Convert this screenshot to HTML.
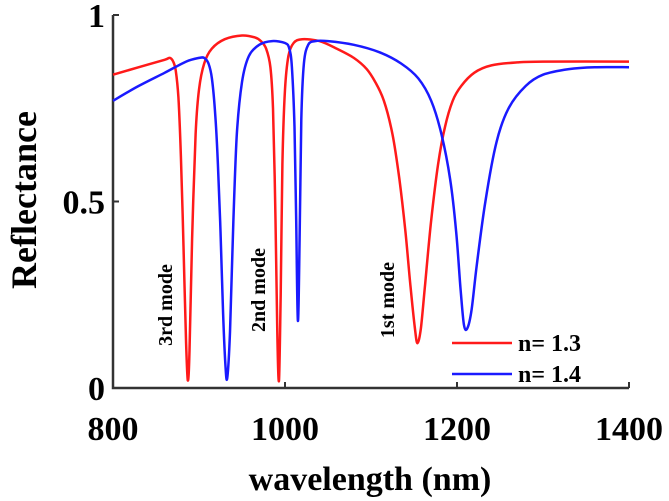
<!DOCTYPE html>
<html><head><meta charset="utf-8"><style>
html,body{margin:0;padding:0;background:#fff;}
svg{display:block;font-family:"Liberation Serif",serif;font-weight:bold;}
</style></head><body>
<svg id="chart" width="669" height="501" viewBox="0 0 669 501">
<g id="axes"></g>
<g id="series"></g>
<text x="172" y="305" font-size="20" text-anchor="middle" transform="rotate(-90 172 305)">3rd mode</text>
<text x="265" y="290" font-size="20" text-anchor="middle" transform="rotate(-90 265 290)">2nd mode</text>
<text x="394" y="300" font-size="20" text-anchor="middle" transform="rotate(-90 394 300)">1st mode</text>
<g>
<line x1="452" y1="343" x2="512" y2="343" stroke="#ff1a1a" stroke-width="2.5"/>
<text x="518" y="351" font-size="24">n= 1.3</text>
<line x1="452" y1="374" x2="512" y2="374" stroke="#1a1aff" stroke-width="2.5"/>
<text x="518" y="382" font-size="24">n= 1.4</text>
</g>
<text x="370" y="490" font-size="34" text-anchor="middle">wavelength (nm)</text>
<text x="36" y="200" font-size="36" text-anchor="middle" transform="rotate(-90 36 200)">Reflectance</text>
</svg>
<script>
const redX=[800,830,860,866,870,873,876,879,882,885,887,889,892,896,900,906,915,930,950,965,972,978,983,986,989,991,993,995,997,1000,1004,1010,1020,1040,1060,1080,1095,1105,1115,1125,1133,1140,1146,1151,1154,1158,1163,1170,1178,1186,1195,1205,1220,1240,1270,1300,1400];
const redY=[0.84,0.86,0.88,0.885,0.875,0.85,0.78,0.62,0.38,0.12,0.02,0.1,0.4,0.68,0.8,0.87,0.91,0.935,0.945,0.94,0.93,0.91,0.86,0.75,0.45,0.15,0.02,0.25,0.6,0.8,0.89,0.925,0.935,0.93,0.91,0.885,0.855,0.82,0.77,0.68,0.56,0.42,0.27,0.16,0.12,0.16,0.28,0.45,0.6,0.7,0.77,0.81,0.845,0.865,0.873,0.875,0.875];
const blueX=[800,830,860,885,900,906,911,915,919,922,925,928,931,933,936,940,944,950,958,970,985,1000,1005,1008,1011,1013,1015,1017,1019,1022,1027,1035,1050,1080,1110,1135,1155,1170,1182,1192,1199,1204,1208,1212,1217,1223,1233,1246,1260,1280,1300,1330,1360,1400];
const blueY=[0.77,0.81,0.845,0.875,0.885,0.885,0.87,0.83,0.73,0.6,0.42,0.2,0.05,0.03,0.15,0.45,0.68,0.82,0.89,0.92,0.93,0.925,0.91,0.86,0.7,0.45,0.18,0.4,0.72,0.87,0.92,0.93,0.93,0.92,0.9,0.87,0.83,0.77,0.68,0.56,0.42,0.27,0.17,0.16,0.21,0.33,0.5,0.66,0.75,0.81,0.84,0.855,0.86,0.86];
const xTicks=[800,1000,1200,1400];
const yTicks=[0,0.5,1];
const yTickLabels=["0","0.5","1"];
const X0=113,X1=629,Y0=388,Y1=15;
const sx=v=>X0+(v-800)/(1400-800)*(X1-X0);
const sy=v=>Y0-(v-0)/(1-0)*(Y0-Y1);
const NS="http://www.w3.org/2000/svg";
const axes=document.getElementById('axes'),series=document.getElementById('series');
function mk(t,a,p){const e=document.createElementNS(NS,t);for(const k in a)e.setAttribute(k,a[k]);p.appendChild(e);return e;}
const ax=mk('path',{d:`M${X0} ${Y1}V${Y0}H${X1}`,stroke:'#333',fill:'none','stroke-width':2.5},axes);


xTicks.forEach(v=>{
 const l=mk('line',{x1:sx(v),x2:sx(v),y1:Y0,y2:Y0-6,stroke:'#333','stroke-width':2},axes);
 
 
 const t=mk('text',{x:sx(v),y:Y0+52,'font-size':34,'text-anchor':'middle'},axes);
 t.textContent=v;
 
 
});
yTicks.forEach((v,i)=>{
 const l=mk('line',{x1:X0,x2:X0+6,y1:sy(v),y2:sy(v),stroke:'#333','stroke-width':2},axes);
 
 
 const t=mk('text',{x:X0-8,y:sy(v)+12,'font-size':34,'text-anchor':'end'},axes);
 t.textContent=yTickLabels[i];
 
 
});
function line(xs,ys,c,name){
 const P=xs.map((x,i)=>[sx(x),sy(ys[i])]);
 let d='M'+P[0][0].toFixed(1)+' '+P[0][1].toFixed(1);
 for(let i=0;i<P.length-1;i++){
  const p0=P[Math.max(0,i-1)],p1=P[i],p2=P[i+1],p3=P[Math.min(P.length-1,i+2)];
  const t=0.16;
  const c1=[p1[0]+(p2[0]-p0[0])*t,p1[1]+(p2[1]-p0[1])*t];
  const c2=[p2[0]-(p3[0]-p1[0])*t,p2[1]-(p3[1]-p1[1])*t];
  d+=`C${c1[0].toFixed(1)} ${c1[1].toFixed(1)} ${c2[0].toFixed(1)} ${c2[1].toFixed(1)} ${p2[0].toFixed(1)} ${p2[1].toFixed(1)}`;
 }
 const p=mk('path',{d:d,stroke:c,fill:'none','stroke-width':2.5,'stroke-linejoin':'round'},series);
 
 
}
line(redX,redY,'#ff1a1a','series-n13');
line(blueX,blueY,'#1a1aff','series-n14');
</script>
</body></html>
